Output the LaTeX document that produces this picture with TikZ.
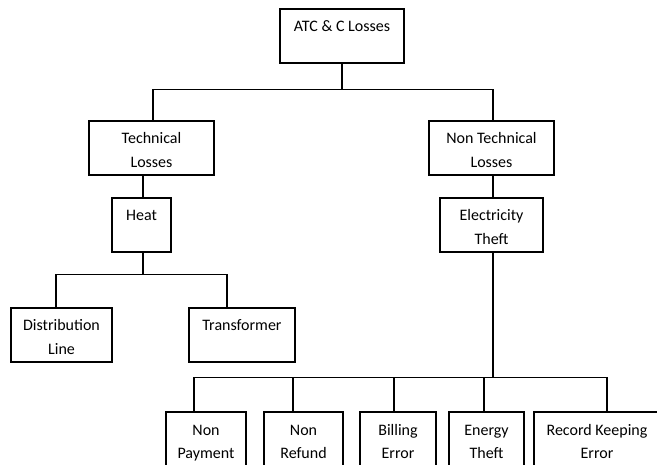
\documentclass[tikz,border=0pt]{standalone}
\usepackage{fontspec}
\setmainfont{Carlito}
\usepackage{tikz}
\usetikzlibrary{calc}
\tikzset{
  box/.style={rectangle, draw, line width=1.1pt, inner sep=0pt,
              minimum height=54pt, text height=43.5pt, text depth=3.5pt,
              align=center, font=\fontsize{16}{24}\selectfont},
  onebox/.style={box, text height=19.5pt, text depth=27.5pt},
  link/.style={line width=1.1pt},
}

\begin{document}
\begin{tikzpicture}[x=1pt, y=-1pt]
  \useasboundingbox (0,0) rectangle (657,465);

  % top level
  \node[onebox, minimum width=124pt] (atc) at (342,36) {ATC \& C Losses};
  \node[box, minimum width=125pt] (tech) at (151.5,148) {Technical\\Losses};
  \node[box, minimum width=125pt] (nontech) at (491.5,148) {Non Technical\\Losses};

  % second level
  \node[onebox, minimum width=59pt] (heat) at (141.5,225) {Heat};
  \node[box, minimum width=103pt] (elec) at (491.5,225) {Electricity\\Theft};

  % technical branch
  \node[box, minimum width=101pt] (dist) at (61.5,335) {Distribution\\Line};
  \node[onebox, minimum width=106pt] (trans) at (242,335) {Transformer};

  % non technical branch (cut by the page edge)
  \node[box, minimum width=80pt] (nopay) at (206,439) {Non\\Payment};
  \node[box, minimum width=79pt] (noref) at (303.5,439) {Non\\Refund};
  \node[box, minimum width=76pt] (bill) at (398,439) {Billing\\Error};
  \node[box, minimum width=75pt] (energy) at (486.5,439) {Energy\\Theft};
  \node[box, minimum width=126pt] (record) at (597,439) {Record Keeping\\Error};

  % connectors
  \draw[link] (atc.south) -- ++(0,26) coordinate (busA);
  \draw[link] ([xshift=1.5pt]tech.north) |- (busA) -| ([xshift=1.5pt]nontech.north);
  \draw[link] ([xshift=1.5pt]heat.north) -- ([xshift=1.5pt]heat.north |- tech.south);
  \draw[link] ([xshift=1.5pt]elec.north) -- ([xshift=1.5pt]elec.north |- nontech.south);

  \draw[link] ([xshift=1.5pt]heat.south) -- ++(0,22) coordinate (busB);
  \draw[link] ([xshift=-5.5pt]dist.north) |- (busB) -| ([xshift=-15pt]trans.north);

  \draw[link] ([xshift=1.5pt]elec.south) -- ++(0,125) coordinate (busC);
  \draw[link] ([xshift=-12pt]nopay.north) |- (busC) -| ([xshift=10pt]record.north);
  \draw[link] ([xshift=-10.5pt]noref.north) -- ([xshift=-10.5pt]noref.north |- busC);
  \draw[link] ([xshift=-4pt]bill.north) -- ([xshift=-4pt]bill.north |- busC);
  \draw[link] ([xshift=-2.5pt]energy.north) -- ([xshift=-2.5pt]energy.north |- busC);
\end{tikzpicture}
\end{document}
